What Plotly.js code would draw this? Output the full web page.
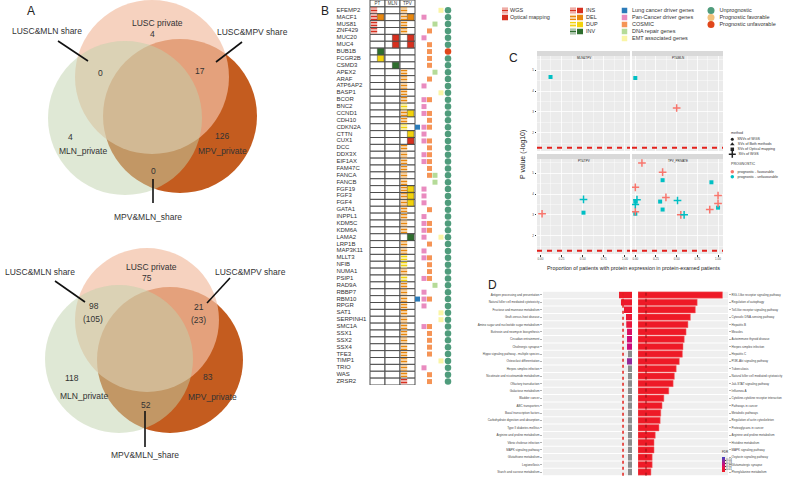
<!DOCTYPE html>
<html><head><meta charset="utf-8">
<script src="https://cdn.plot.ly/plotly-3.0.1.min.js"></script>
<style>html,body{margin:0;padding:0;background:#fff}#chart{width:796px;height:480px}</style>
</head><body><div id="chart"></div>
<script>
// ================= DATA =================
// Panel A (Venn counts)
const vennRegions = ['LUSC private','LUSC&MLN share','LUSC&MPV share','MLN_private','MPV_private','MPV&MLN_share'];
const vennTopCounts = [4, 0, 17, 4, 126, 0];
const vennBottomCounts = [75, 98, 21, 118, 83, 52];
const vennBottomTotals = [null, 105, 23, null, null, null];

// Panel B (SV landscape)
const sampleCols = ['PT','MLN','TPV'];
const genes = ['EFEMP2','MACF1','MUS81','ZNF429','MUC20','MUC4','BUB1B','FCGR2B','CSMD3','APEX2',
 'ARAF','ATP6AP2','BASP1','BCOR','BNC2','CCND1','CDH10','CDKN2A','CTTN','CUX1',
 'DCC','DDX3X','EIF1AX','FAM47C','FANCA','FANCB','FGF19','FGF3','FGF4','GATA1',
 'INPPL1','KDM5C','KDM6A','LAMA2','LRP1B','MAP3K11','MLLT3','NFIB','NUMA1','PSIP1',
 'RAD9A','RBBP7','RBM10','RPGR','SAT1','SERPINH1','SMC1A','SSX1','SSX2','SSX4',
 'TFE3','TIMP1','TRIO','WAS','ZRSR2'];
const ptWGS = ['INS','INS','INS','INS','','','','','','', '','','','','','','','','','',
 '','','','','','','','','','', '','','','','','','','','','', '','','','','','','','','','', '','','','',''];
const ptOM = ['','DEL','','','','','INV','DUP','','', '','','','','','','','','','',
 '','','','','','','','','','', '','','','','','','','','','', '','','','','','','','','','', '','','','',''];
const mlnWGS = genes.map(() => '');
const mlnOM = ['','','','','INS','INS','','','INV','', '','','','','','','','','','',
 '','','','','','','','','','', '','','','','','','','','','', '','','','','','','','','','', '','','','',''];
const tpvWGS = ['DEL','DEL','DEL','DEL','','','','','','DEL', 'DEL','DEL','DEL','DEL','DUP','DEL','DEL','DUP','','',
 'DEL','DEL','DEL','DEL','DEL','DEL','DEL','DEL','DEL','DEL', 'DEL','DEL','DEL','','DEL','DEL','DUP','DUP','DEL','DUP',
 'DEL','DEL','DEL','DEL','DEL','DEL','DEL','DEL','DEL','DEL', 'DEL','DEL','DEL','DEL','INS'];
const tpvOM = ['','DEL','','','INS','INS','','','','', '','','','','','DUP','','','DUP','INS',
 '','','','','','','DUP','DUP','DUP','', '','','','INV','','','','','','', '','','','','','','','','','', '','','','',''];
const lungDriverGenes = ['CDKN2A','RBM10'];
const panCancerGenes = ['MACF1','MUC20','ATP6AP2','BCOR','BNC2','CCND1','CDKN2A','CTTN','CUX1','DDX3X','EIF1AX','FGF19','FGF3','FGF4','INPPL1','KDM5C','KDM6A','LAMA2','MAP3K11','MLLT3','PSIP1','RBBP7','RBM10','RPGR','SMC1A','TRIO'];
const cosmicGenes = ['ZNF429','MUC4','BUB1B','FCGR2B','CSMD3','ARAF','BCOR','CCND1','CDH10','CDKN2A','CUX1','DCC','DDX3X','EIF1AX','FAM47C','FANCA','GATA1','KDM5C','KDM6A','LRP1B','MLLT3','NFIB','NUMA1','PSIP1','RBM10','SMC1A','SSX1','SSX2','SSX4','TFE3','WAS','ZRSR2'];
const dnaRepairGenes = ['MUS81','APEX2','FANCA','FANCB','RAD9A'];
const emtGenes = ['EFEMP2','BASP1','LAMA2','SAT1','SERPINH1','TIMP1'];
const unfavourableGenes = ['BUB1B'];
const favourableGenes = [];
const svTypes = ['INS','DEL','DUP','INV'];
const categoryNames = ['Lung cancer driver genes','Pan-Cancer driver genes','COSMIC','DNA repair genes','EMT associated genes'];
const prognosisNames = ['Unprognostic','Prognostic favorable','Prognostic unfavorable'];

// Panel C (facet scatter)
const facetNames = ['MLN&TPV','PT&MLN','PT&TPV','TPV_PRIVATE'];
const methodNames = ['SNVs of WGS','SVs of Both methods','SVs of Optical mapping','SVs of WGS'];
const progNames = ['prognostic - favourable','prognostic - unfavourable'];
const cFacet = ['MLN&TPV','PT&MLN','PT&MLN','PT&TPV','PT&TPV','PT&TPV',
 'TPV_PRIVATE','TPV_PRIVATE','TPV_PRIVATE','TPV_PRIVATE','TPV_PRIVATE','TPV_PRIVATE','TPV_PRIVATE','TPV_PRIVATE',
 'TPV_PRIVATE','TPV_PRIVATE','TPV_PRIVATE','TPV_PRIVATE','TPV_PRIVATE','TPV_PRIVATE','TPV_PRIVATE',
 'TPV_PRIVATE','TPV_PRIVATE','TPV_PRIVATE','TPV_PRIVATE','TPV_PRIVATE'];
const cProportion = [0.12, 0.0, 0.5, 0.02, 0.51, 0.51,
 0.08, 0.33, 0.33, 0.0, 0.37, 0.30, 0.51, 0.92,
 1.0, 1.0, 0.90, 1.0, 0.33, 0.55, 0.59,
 0.0, 0.02, 0.0, 0.0, 0.0];
const cPvalue = [4.67, 4.62, 3.19, 3.06, 3.74, 3.11,
 5.48, 5.04, 4.66, 4.32, 3.84, 3.64, 3.69, 4.56,
 3.93, 3.55, 3.26, 3.35, 3.26, 3.01, 3.01,
 3.64, 3.73, 3.50, 3.16, 3.06];
const cMethod = ['SVs of Optical mapping','SVs of Optical mapping','SVs of WGS','SVs of WGS','SVs of WGS','SVs of Optical mapping',
 'SVs of WGS','SVs of WGS','SVs of Optical mapping','SVs of WGS','SVs of WGS','SVs of Optical mapping','SVs of WGS','SVs of Optical mapping',
 'SVs of WGS','SVs of WGS','SVs of WGS','SVs of Optical mapping','SVs of Optical mapping','SVs of WGS','SVs of WGS',
 'SVs of Optical mapping','SVs of WGS','SVs of WGS','SVs of WGS','SVs of Optical mapping'];
const cPrognostic = ['U','U','F','F','U','U',
 'F','F','U','F','F','U','U','U',
 'F','F','F','U','U','F','U',
 'U','U','U','F','U'];
const cThreshold = 1.3;

// Panel D (pathway enrichment)
const leftPathways = ['Antigen processing and presentation','Natural killer cell mediated cytotoxicity','Fructose and mannose metabolism','Graft-versus-host disease','Amino sugar and nucleotide sugar metabolism','Butirosin and neomycin biosynthesis','Circadian entrainment','Cholinergic synapse','Hippo signaling pathway - multiple species','Osteoclast differentiation','Herpes simplex infection','Nicotinate and nicotinamide metabolism','Olfactory transduction','Galactose metabolism','Bladder cancer','ABC transporters','Basal transcription factors','Carbohydrate digestion and absorption','Type II diabetes mellitus','Arginine and proline metabolism','Vibrio cholerae infection','MAPK signaling pathway','Glutathione metabolism','Legionellosis','Starch and sucrose metabolism'];
const leftScore = [1.88,1.6,1.16,0.87,0.83,0.72,0.72,0.72,0.58,0.72,0.58,0.58,0.58,0.58,0.58,0.58,0.58,0.58,0.58,0.58,0.58,0.58,0.58,0.58,0.58];
const leftFDR = [0.002,0.003,0.005,0.007,0.009,0.02,0.024,0.025,null,0.036,null,null,null,null,null,null,null,null,null,null,null,null,null,null,null];
const rightPathways = ['RIG-I-like receptor signaling pathway','Regulation of autophagy','Toll-like receptor signaling pathway','Cytosolic DNA-sensing pathway','Hepatitis B','Measles','Autoimmune thyroid disease','Herpes simplex infection','Hepatitis C','PI3K-Akt signaling pathway','Tuberculosis','Natural killer cell mediated cytotoxicity','Jak-STAT signaling pathway','Influenza A','Cytokine-cytokine receptor interaction','Pathways in cancer','Metabolic pathways','Regulation of actin cytoskeleton','Proteoglycans in cancer','Arginine and proline metabolism','Histidine metabolism','MAPK signaling pathway','Oxytocin signaling pathway','Glutamatergic synapse','Phenylalanine metabolism'];
const rightScore = [13.7,9.6,9.3,8.5,8.1,7.8,7.5,7.3,7.2,6.7,6.2,5.9,5.7,5.0,4.2,3.9,3.7,3.6,3.4,2.8,2.6,2.6,2.3,2.3,2.1];
const rightFDR = rightScore.map(() => 0.001);
const dThreshold = 1.3;

// ================= STYLE / LAYOUT =================
const FONT = 'Liberation Sans, Arial, Helvetica, sans-serif';
const W = 796, H = 480;
const px = v => v / W, py = v => 1 - v / H;
const esc = s => String(s).replace(/&/g, '&amp;');
const svColors = {INS:'#d7301f', DEL:'#e8870e', DUP:'#f2d20c', INV:'#2e6e2e'};
const catColors = ['#2b7bb9','#e98bbf','#f59456','#b5db98','#faf5a6'];
const progColors = ['#4f9c7c','#f2c27c','#e0461a'];
const cColors = {F:'#f8766d', U:'#00bfc4'};
const stripe = c => ({color:c, line:{width:0}, pattern:{shape:'-', size:3, solidity:0.6, fillmode:'replace', fgcolor:c, bgcolor:'white'}});
const traces = [], shapes = [], annotations = [];

// ---------- Panel A ----------
const vennFill = {MPV:'rgba(196,92,31,1)', LUSC:'rgba(242,191,164,0.7)', MLN:'rgba(191,209,171,0.5)'};
const vennGeom = [
  {MPV:[180,116,77], LUSC:[152,77,77], MLN:[125,118,77]},
  {MPV:[170,360,73], LUSC:[147,320,72], MLN:[119,359,74]}
];
vennGeom.forEach(g => ['MPV','LUSC','MLN'].forEach(k => {
  const [cx, cy, r] = g[k];
  shapes.push({type:'circle', xref:'x', yref:'y', x0:cx-r, x1:cx+r, y0:cy-r, y1:cy+r,
    fillcolor:vennFill[k], line:{width:0}, layer:'below'});
}));
const vennPos = [
  { // top diagram
    label:[[157,23],[47,31],[252,32],[83,151],[222,151],[148,217]],
    count:[[152,34],[100,73],[200,71],[70,137],[222,136],[153,171]],
    line:[null,[58,41,88,61],[242,42,216,62],null,null,[153,179,153,203]]
  },
  { // bottom diagram
    label:[[151,267],[40,272],[250,272],[84,396],[212,397],[145,455]],
    count:[[147,278],[94,306],[199,307],[72,378],[208,377],[146,405]],
    line:[null,[55,281,85,302],[230,278,207,303],null,null,[145,411,145,447]]
  }
];
const vennCounts = [vennTopCounts, vennBottomCounts];
const vennFont = {family:FONT, size:8.5, color:'#333'};
vennPos.forEach((pos, d) => {
  vennRegions.forEach((name, i) => {
    annotations.push({xref:'x', yref:'y', x:pos.label[i][0], y:pos.label[i][1], text:esc(name), showarrow:false, font:vennFont});
    annotations.push({xref:'x', yref:'y', x:pos.count[i][0], y:pos.count[i][1], text:String(vennCounts[d][i]), showarrow:false, font:vennFont});
    if (d === 1 && vennBottomTotals[i] !== null) {
      annotations.push({xref:'x', yref:'y', x:pos.count[i][0]-1, y:pos.count[i][1]+13, text:'(' + vennBottomTotals[i] + ')', showarrow:false, font:vennFont});
    }
    const l = pos.line[i];
    if (l) shapes.push({type:'line', xref:'x', yref:'y', x0:l[0], y0:l[1], x1:l[2], y1:l[3], line:{color:'#111', width:1.6}, layer:'above'});
  });
});
annotations.push({xref:'x', yref:'y', x:31, y:11, text:'A', showarrow:false, font:{family:FONT, size:12, color:'#222'}});

// ---------- Panel B ----------
const hdr = 'Sample';
const yCats = [hdr].concat(genes);
sampleCols.forEach((c, ci) => {
  traces.push({type:'bar', orientation:'h', xaxis:'x2', yaxis:'y2', y:yCats, x:yCats.map(() => 1),
    base:yCats.map(() => ci - 0.5), width:yCats.map(() => 1),
    marker:{color:'white', line:{color:'#4d4d4d', width:1}}, hoverinfo:'skip'});
});
const calls = {PT:{WGS:ptWGS, OM:ptOM}, MLN:{WGS:mlnWGS, OM:mlnOM}, TPV:{WGS:tpvWGS, OM:tpvOM}};
sampleCols.forEach((c, ci) => {
  svTypes.forEach(t => {
    const gW = genes.filter((g, i) => calls[c].WGS[i] === t);
    if (gW.length) traces.push({type:'bar', orientation:'h', xaxis:'x2', yaxis:'y2', y:gW,
      x:gW.map(() => 0.42), base:gW.map(() => ci - 0.44), width:gW.map(() => 0.82),
      marker:stripe(svColors[t]), hoverinfo:'skip'});
    const gO = genes.filter((g, i) => calls[c].OM[i] === t);
    if (gO.length) traces.push({type:'bar', orientation:'h', xaxis:'x2', yaxis:'y2', y:gO,
      x:gO.map(() => 0.44), base:gO.map(() => ci - 0.01), width:gO.map(() => 0.9),
      marker:{color:svColors[t], line:{color:'#333', width:0.4}}, hoverinfo:'skip'});
  });
});
traces.push({type:'scatter', mode:'text', xaxis:'x2', yaxis:'y2', x:sampleCols.map((c, i) => i), y:sampleCols.map(() => hdr),
  text:sampleCols, textfont:{family:FONT, size:4.5, color:'#333'}, hoverinfo:'skip'});
traces.push({type:'scatter', mode:'text', xaxis:'x2', yaxis:'y2', x:genes.map(() => -2.74), y:genes, text:genes,
  textposition:'middle right', textfont:{family:FONT, size:6, color:'#333'}, hoverinfo:'skip'});
const catLists = [lungDriverGenes, panCancerGenes, cosmicGenes, dnaRepairGenes, emtGenes];
const catX = [2.667, 3.1, 3.467, 3.833, 4.233];
catLists.forEach((lst, k) => {
  traces.push({type:'scatter', mode:'markers', xaxis:'x2', yaxis:'y2', x:lst.map(() => catX[k]), y:lst,
    marker:{symbol:'square', size:5, color:catColors[k], line:{width:0}}, hoverinfo:'skip'});
});
const progOf = g => unfavourableGenes.includes(g) ? 2 : (favourableGenes.includes(g) ? 1 : 0);
traces.push({type:'scatter', mode:'markers', xaxis:'x2', yaxis:'y2', x:genes.map(() => 4.7), y:genes,
  marker:{symbol:'circle', size:6.5, color:genes.map(g => progColors[progOf(g)]), line:{width:0}}, hoverinfo:'skip'});
annotations.push({xref:'x', yref:'y', x:325, y:11, text:'B', showarrow:false, font:{family:FONT, size:12, color:'#222'}});

// Legend for B (pixel coordinates)
const legFont = {family:FONT, size:5.5, color:'#333'};
const legRowY = i => 10.5 + 7 * i;
function keyBar(xb, y, color, striped) {
  traces.push({type:'bar', orientation:'h', xaxis:'x', yaxis:'y', y:[y], x:[6], base:[xb], width:[5.5],
    marker: striped ? stripe(color) : {color:color, line:{width:0}}, hoverinfo:'skip'});
}
keyBar(502, legRowY(0), svColors.INS, true);
keyBar(502, legRowY(1), svColors.INS, false);
svTypes.forEach((t, i) => { keyBar(570, legRowY(i), svColors[t], true); keyBar(577, legRowY(i), svColors[t], false); });
traces.push({type:'scatter', mode:'text', xaxis:'x', yaxis:'y', x:[510,510].concat(svTypes.map(() => 586)),
  y:[legRowY(0), legRowY(1)].concat(svTypes.map((t, i) => legRowY(i))),
  text:['WGS','Optical mapping'].concat(svTypes), textposition:'middle right', textfont:legFont, hoverinfo:'skip'});
traces.push({type:'scatter', mode:'markers+text', xaxis:'x', yaxis:'y', x:categoryNames.map(() => 624.5),
  y:categoryNames.map((n, i) => legRowY(i)), text:categoryNames.map(n => '  ' + n), textposition:'middle right', textfont:legFont,
  marker:{symbol:'square', size:5.5, color:catColors, line:{width:0}}, hoverinfo:'skip'});
traces.push({type:'scatter', mode:'markers+text', xaxis:'x', yaxis:'y', x:prognosisNames.map(() => 711),
  y:prognosisNames.map((n, i) => legRowY(i)), text:prognosisNames.map(n => '  ' + n), textposition:'middle right', textfont:legFont,
  marker:{symbol:'circle', size:7, color:progColors, line:{width:0}}, hoverinfo:'skip'});

// ---------- Panel C ----------
const facetAxes = {'MLN&TPV':['x3','y3'], 'PT&MLN':['x4','y4'], 'PT&TPV':['x5','y5'], 'TPV_PRIVATE':['x6','y6']};
const methodSym = {'SNVs of WGS':['circle',3.5,0], 'SVs of Both methods':['triangle-up',4.5,0], 'SVs of Optical mapping':['square',4,0], 'SVs of WGS':['cross-thin-open',5.5,1.5]};
facetNames.forEach(f => methodNames.forEach(m => ['F','U'].forEach(p => {
  const idx = cFacet.map((v, i) => i).filter(i => cFacet[i] === f && cMethod[i] === m && cPrognostic[i] === p);
  if (!idx.length) return;
  const [sym, sz, lw] = methodSym[m];
  traces.push({type:'scatter', mode:'markers', xaxis:facetAxes[f][0], yaxis:facetAxes[f][1],
    x:idx.map(i => cProportion[i]), y:idx.map(i => cPvalue[i]),
    marker:{symbol:sym, size:sz, color:cColors[p], line:{width:lw, color:cColors[p]}}, hoverinfo:'skip'});
})));
facetNames.forEach(f => {
  const [xa, ya] = facetAxes[f];
  shapes.push({type:'rect', xref:xa + ' domain', yref:ya + ' domain', x0:0, x1:1, y0:0, y1:1, fillcolor:'#ebebeb', line:{width:0}, layer:'below'});
  shapes.push({type:'line', xref:xa + ' domain', yref:ya, x0:0, x1:1, y0:cThreshold, y1:cThreshold, line:{color:'#e3211c', width:2, dash:'5px,5px'}, layer:'above'});
});
const stripTop = {'MLN&TPV':51, 'PT&MLN':51, 'PT&TPV':154, 'TPV_PRIVATE':154};
facetNames.forEach(f => {
  const xa = facetAxes[f][0];
  shapes.push({type:'rect', xref:xa + ' domain', yref:'paper', x0:0, x1:1, y0:py(stripTop[f] + 5), y1:py(stripTop[f]), fillcolor:'#d9d9d9', line:{width:0}, layer:'below'});
  annotations.push({xref:xa + ' domain', yref:'paper', x:0.5, y:py(stripTop[f] + 2.5), text:esc(f), showarrow:false, font:{family:FONT, size:3, color:'#1a1a1a'}});
});
annotations.push({xref:'x', yref:'y', x:513, y:58, text:'C', showarrow:false, font:{family:FONT, size:12, color:'#222'}});
annotations.push({xref:'x', yref:'y', x:523, y:155, text:'P value (-log10)', textangle:-90, showarrow:false, font:{family:FONT, size:7, color:'#222'}});
annotations.push({xref:'x', yref:'y', x:633, y:268, text:'Proportion of patients with protein expression in protein-examed patients', showarrow:false, font:{family:FONT, size:5.4, color:'#222'}});
// C legend
const cLegFont = {family:FONT, size:3.6, color:'#333'};
annotations.push({xref:'x', yref:'y', x:729, y:133.3, text:'method', xanchor:'left', showarrow:false, font:cLegFont});
methodNames.forEach((m, i) => {
  const [sym, sz, lw] = methodSym[m];
  traces.push({type:'scatter', mode:'markers+text', xaxis:'x', yaxis:'y', x:[732.3], y:[139.3 + 5 * i], text:['  ' + m],
    textposition:'middle right', textfont:cLegFont, marker:{symbol:sym, size:sz - 0.5, color:'#222', line:{width:lw, color:'#222'}}, hoverinfo:'skip'});
});
annotations.push({xref:'x', yref:'y', x:729, y:163.7, text:'PROGNOSTIC', xanchor:'left', showarrow:false, font:cLegFont});
progNames.forEach((p, i) => {
  traces.push({type:'scatter', mode:'markers+text', xaxis:'x', yaxis:'y', x:[732.3], y:[171.7 + 5 * i], text:['  ' + p],
    textposition:'middle right', textfont:cLegFont, marker:{symbol:'circle', size:3.5, color:cColors[i ? 'U' : 'F']}, hoverinfo:'skip'});
});

// ---------- Panel D ----------
const dLeftMax = 12.9, dRightMax = 14.6;
const dScale = [[0,'#ee1b24'],[0.3,'#e8124a'],[0.5,'#cc0a7a'],[0.75,'#8a2c9e'],[1,'#3b40c0']];
traces.push({type:'bar', orientation:'h', xaxis:'x7', yaxis:'y7', y:leftPathways, x:leftPathways.map(() => dLeftMax),
  width:0.86, marker:{color:'#efefef', line:{width:0}}, hoverinfo:'skip'});
traces.push({type:'bar', orientation:'h', xaxis:'x8', yaxis:'y8', y:rightPathways, x:rightPathways.map(() => dRightMax),
  width:0.86, marker:{color:'#efefef', line:{width:0}}, hoverinfo:'skip'});
const iSig = leftPathways.map((v, i) => i).filter(i => leftFDR[i] !== null);
const iNA = leftPathways.map((v, i) => i).filter(i => leftFDR[i] === null);
traces.push({type:'bar', orientation:'h', xaxis:'x7', yaxis:'y7', y:iSig.map(i => leftPathways[i]), x:iSig.map(i => leftScore[i]),
  width:0.86, marker:{color:iSig.map(i => leftFDR[i]), colorscale:dScale, cmin:0, cmax:0.05, line:{width:0},
    showscale:true, colorbar:{x:px(722), xanchor:'left', y:py(460), yanchor:'middle', len:24, lenmode:'pixels', thickness:3,
      outlinewidth:0, xpad:0, ypad:0, ticklen:1, tickvals:[0.01,0.02,0.03,0.04], tickfont:{family:FONT, size:3, color:'#333'},
      title:{text:'FDR', font:{family:FONT, size:3, color:'#333'}}}}, hoverinfo:'skip'});
traces.push({type:'bar', orientation:'h', xaxis:'x7', yaxis:'y7', y:iNA.map(i => leftPathways[i]), x:iNA.map(i => leftScore[i]),
  width:0.86, marker:{color:'#8c8c8c', line:{width:0}}, hoverinfo:'skip'});
traces.push({type:'bar', orientation:'h', xaxis:'x8', yaxis:'y8', y:rightPathways, x:rightScore,
  width:0.86, marker:{color:rightFDR, colorscale:dScale, cmin:0, cmax:0.05, line:{color:'#f26d6d', width:0.5}}, hoverinfo:'skip'});
shapes.push({type:'line', xref:'x7', yref:'y7 domain', x0:dThreshold, x1:dThreshold, y0:0, y1:1, line:{color:'#e3211c', width:1.5, dash:'3px,3px'}, layer:'above'});
shapes.push({type:'line', xref:'x8', yref:'y8 domain', x0:dThreshold, x1:dThreshold, y0:0, y1:1, line:{color:'#8b1010', width:1, dash:'3px,3px'}, layer:'above'});
annotations.push({xref:'x', yref:'y', x:492, y:285, text:'D', showarrow:false, font:{family:FONT, size:12, color:'#222'}});

// ---------- axes ----------
const cxBase = {range:[-0.04,1.06], tick0:0, dtick:0.25, showgrid:true, gridcolor:'white', gridwidth:0.8,
  minor:{showgrid:true, gridcolor:'white', gridwidth:0.4, dtick:0.125, tick0:0}, zeroline:false, showline:false,
  ticks:'outside', ticklen:1.5, tickcolor:'#333', tickfont:{family:FONT, size:3, color:'#4d4d4d'}, fixedrange:true, tickformat:'.2f'};
const cyBase = {range:[1.14,5.67], tick0:0, dtick:1, showgrid:true, gridcolor:'white', gridwidth:0.8,
  minor:{showgrid:true, gridcolor:'white', gridwidth:0.4, dtick:0.5, tick0:0}, zeroline:false, showline:false,
  ticks:'outside', ticklen:1.5, tickcolor:'#333', tickfont:{family:FONT, size:3, color:'#4d4d4d'}, fixedrange:true};
const dyBase = {type:'category', range:[24.5,-0.5], showgrid:false, zeroline:false, showline:false, ticks:'outside', ticklen:2,
  tickcolor:'#666', tickwidth:0.5, tickfont:{family:FONT, size:3, color:'#444'}, fixedrange:true};
const layout = {
  width:W, height:H, margin:{l:0, r:0, t:0, b:0}, paper_bgcolor:'white', plot_bgcolor:'rgba(0,0,0,0)',
  showlegend:false, barmode:'overlay', font:{family:FONT, color:'#333'},
  xaxis:{domain:[0,1], range:[0,W], visible:false, fixedrange:true},
  yaxis:{domain:[0,1], range:[H,0], visible:false, fixedrange:true},
  xaxis2:{domain:[px(336), px(455)], range:[-2.767, 5.167], visible:false, fixedrange:true, anchor:'y2'},
  yaxis2:{domain:[py(385), 1], type:'category', categoryarray:yCats, categoryorder:'array', range:[55.5,-0.5], visible:false, fixedrange:true, anchor:'x2'},
  xaxis3:Object.assign({}, cxBase, {domain:[px(537), px(630)], anchor:'y3', showticklabels:false, ticks:''}),
  yaxis3:Object.assign({}, cyBase, {domain:[py(151), py(56)], anchor:'x3'}),
  xaxis4:Object.assign({}, cxBase, {domain:[px(632), px(723)], anchor:'y4', showticklabels:false, ticks:''}),
  yaxis4:Object.assign({}, cyBase, {domain:[py(151), py(56)], anchor:'x4', showticklabels:false, ticks:''}),
  xaxis5:Object.assign({}, cxBase, {domain:[px(537), px(630)], anchor:'y5'}),
  yaxis5:Object.assign({}, cyBase, {domain:[py(254), py(159)], anchor:'x5'}),
  xaxis6:Object.assign({}, cxBase, {domain:[px(632), px(723)], anchor:'y6'}),
  yaxis6:Object.assign({}, cyBase, {domain:[py(254), py(159)], anchor:'x6', showticklabels:false, ticks:''}),
  xaxis7:{domain:[px(543), px(632)], range:[dLeftMax, 0], visible:false, fixedrange:true, anchor:'y7'},
  yaxis7:Object.assign({}, dyBase, {domain:[py(475.7), py(291.3)], categoryarray:leftPathways, categoryorder:'array', anchor:'x7', side:'left'}),
  xaxis8:{domain:[px(638), px(728)], range:[0, dRightMax], visible:false, fixedrange:true, anchor:'y8'},
  yaxis8:Object.assign({}, dyBase, {domain:[py(475.7), py(291.3)], categoryarray:rightPathways, categoryorder:'array', anchor:'x8', side:'right'}),
  shapes:shapes, annotations:annotations
};
Plotly.newPlot('chart', traces, layout, {staticPlot:true, displayModeBar:false});
</script>
</body></html>
